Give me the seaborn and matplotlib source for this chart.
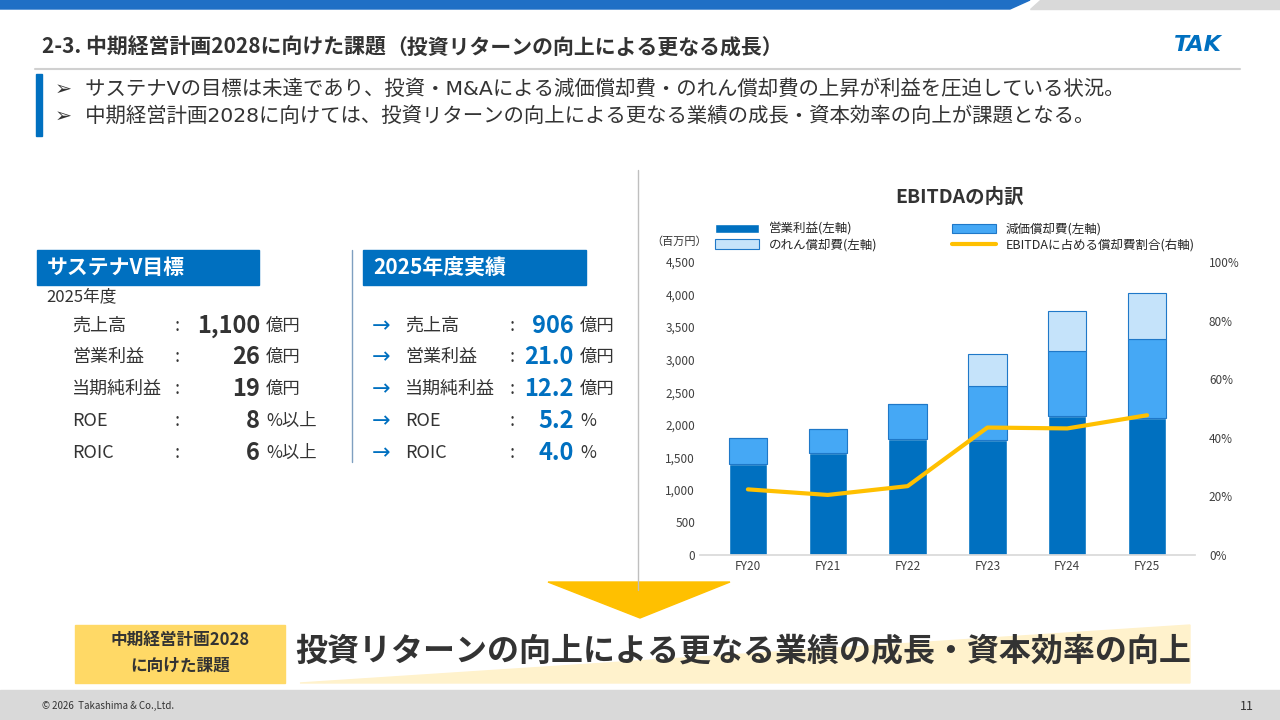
import numpy as np
import pandas as pd
import matplotlib
matplotlib.use("Agg")
import matplotlib.pyplot as plt
import seaborn as sns
from matplotlib.patches import Rectangle, Polygon
from matplotlib.ticker import FuncFormatter, PercentFormatter

# ---- data ----
years = ["FY20", "FY21", "FY22", "FY23", "FY24", "FY25"]
op_profit = [1405, 1560, 1775, 1765, 2135, 2105]
depreciation = [395, 380, 540, 830, 1005, 1205]
goodwill = [0, 0, 0, 495, 610, 715]
amort_ratio = [22.4, 20.5, 23.5, 43.5, 43.2, 47.7]

target_labels = ["売上高", "営業利益", "当期純利益", "ROE", "ROIC"]
target_values = ["1,100", "26", "19", "8", "6"]
target_units = ["億円", "億円", "億円", "%以上", "%以上"]
actual_values = ["906", "21.0", "12.2", "5.2", "4.0"]
actual_units = ["億円", "億円", "億円", "%", "%"]

sns.set_theme(style="white")
plt.rcParams["font.family"] = ["Noto Sans CJK JP", "DejaVu Sans"]

W, H = 1280, 720
fig = plt.figure(figsize=(12.8, 7.2), dpi=100)
bg = fig.add_axes([0, 0, 1, 1])
bg.set_xlim(0, W)
bg.set_ylim(H, 0)
bg.axis("off")

BLUE = "#0070C0"
DARK = "#333333"

# header band
bg.add_patch(Polygon([[0, 0], [1030, 0], [1010, 9], [0, 9]], color="#1F6FC5"))
bg.add_patch(Polygon([[1040, 0], [1280, 0], [1280, 9], [1030, 9]], color="#D9D9D9"))
bg.text(42, 47, "2-3. 中期経営計画2028に向けた課題", fontsize=15, weight="bold", color=DARK, va="center")
bg.text(386, 48, "（投資リターンの向上による更なる成長）", fontsize=15, weight="bold", color=DARK, va="center")
bg.plot([35, 1240], [69, 69], color="#D0D0D0", lw=1.5)
bg.text(1198, 45, "TAK", fontsize=16, weight="bold", style="italic", color=BLUE, ha="center", va="center",
        family="DejaVu Sans")

# bullets
bg.add_patch(Rectangle((36, 74), 6, 62, color=BLUE))
bg.text(55, 89, "➢  サステナVの目標は未達であり、投資・M&Aによる減価償却費・のれん償却費の上昇が利益を圧迫している状況。",
        fontsize=14.7, color=DARK, va="center", family=["DejaVu Sans", "Noto Sans CJK JP"])
bg.text(55, 116, "➢  中期経営計画2028に向けては、投資リターンの向上による更なる業績の成長・資本効率の向上が課題となる。",
        fontsize=14.7, color=DARK, va="center", family=["DejaVu Sans", "Noto Sans CJK JP"])

# left panels
bg.add_patch(Rectangle((37, 250), 222, 35, color=BLUE))
bg.text(47, 268, "サステナV目標", fontsize=15, weight="bold", color="white", va="center")
bg.add_patch(Rectangle((363, 250), 223, 35, color=BLUE))
bg.text(373, 268, "2025年度実績", fontsize=15, weight="bold", color="white", va="center")
bg.text(46, 297, "2025年度", fontsize=12, color=DARK, va="center")
bg.plot([352, 352], [250, 462], color="#7F9FC0", lw=1)

rows_y = [326, 357, 389, 421, 453]
for y, lab, tv, tu, av, au in zip(rows_y, target_labels, target_values, target_units, actual_values, actual_units):
    bg.text(72, y, lab, fontsize=13, color=DARK, va="center")
    bg.text(175, y, ":", fontsize=13, color=DARK, va="center")
    bg.text(260, y, tv, fontsize=17, weight="bold", color=DARK, va="center", ha="right")
    bg.text(266, y, tu, fontsize=12.5, color=DARK, va="center")
    bg.text(372, y, "→", fontsize=16, color=BLUE, va="center", family="DejaVu Sans")
    bg.text(405, y, lab, fontsize=13, color=DARK, va="center")
    bg.text(510, y, ":", fontsize=13, color=DARK, va="center")
    bg.text(574, y, av, fontsize=17, weight="bold", color=BLUE, va="center", ha="right")
    bg.text(580, y, au, fontsize=12.5, color=DARK, va="center")

# chart separator + titles
bg.plot([638, 638], [170, 590], color="#BFBFBF", lw=1)
bg.text(960, 197, "EBITDAの内訳", fontsize=14, weight="bold", color=DARK, ha="center", va="center")
bg.text(651, 242, "（百万円）", fontsize=8, color=DARK, va="center")

# arrow and bottom message
bg.add_patch(Polygon([[548, 582], [730, 582], [640, 618]], color="#FFC000"))
bg.add_patch(Polygon([[300, 683], [1190, 625], [1190, 683]], color="#FFF2CC"))
bg.add_patch(Rectangle((75, 625), 210, 58, color="#FFD966"))
bg.text(180, 640, "中期経営計画2028", fontsize=12, weight="bold", color=DARK, ha="center", va="center")
bg.text(180, 666, "に向けた課題", fontsize=12, weight="bold", color=DARK, ha="center", va="center")
bg.text(295, 651, "投資リターンの向上による更なる業績の成長・資本効率の向上", fontsize=23,
        weight="bold", color=DARK, va="center")

# footer
bg.add_patch(Rectangle((0, 690), W, 30, color="#D9D9D9"))
bg.text(42, 706, "© 2026  Takashima & Co.,Ltd.", fontsize=7, color=DARK, va="center")
bg.text(1240, 706, "11", fontsize=9, color=DARK, va="center")

# ---- chart ----
ax = fig.add_axes([700 / W, 1 - 555 / H, 495 / W, 293 / H])
df = pd.DataFrame({"year": years, "op": op_profit, "dep": depreciation, "gw": goodwill})
x = np.arange(len(years))
bw = 0.48
b1 = ax.bar(x, df["op"], bw, color="#0070C0", label="営業利益(左軸)")
b2 = ax.bar(x, df["dep"], bw, bottom=df["op"], color="#45A8F5", edgecolor="#1F78C8", lw=0.8,
            label="減価償却費(左軸)")
b3 = ax.bar(x, df["gw"], bw, bottom=df["op"] + df["dep"], color="#C5E3FA", edgecolor="#1F78C8", lw=0.8,
            label="のれん償却費(左軸)")
ax.set_xlim(-0.6, len(years) - 0.4)
ax.set_ylim(0, 4500)
ax.set_yticks(np.arange(0, 4501, 500))
ax.yaxis.set_major_formatter(FuncFormatter(lambda v, p: f"{int(v):,}"))
ax.set_xticks(x)
ax.set_xticklabels(years)
ax.tick_params(labelsize=8.5, colors="#404040", length=0)
for s in ["top", "right", "left"]:
    ax.spines[s].set_visible(False)
ax.spines["bottom"].set_color("#D9D9D9")
ax.set_facecolor("none")

ax2 = ax.twinx()
ln, = ax2.plot(x, amort_ratio, color="#FFC000", lw=3, label="EBITDAに占める償却費割合(右軸)")
ax2.set_ylim(0, 100)
ax2.set_yticks(np.arange(0, 101, 20))
ax2.yaxis.set_major_formatter(PercentFormatter(decimals=0))
ax2.tick_params(labelsize=8.5, colors="#404040", length=0, pad=10)
for s in ax2.spines.values():
    s.set_visible(False)
ax2.grid(False)

fig.legend([b1, b3, b2, ln], [b1.get_label(), b3.get_label(), b2.get_label(), ln.get_label()],
           ncol=2, loc="center", bbox_to_anchor=(955 / W, 1 - 237 / H), frameon=False,
           fontsize=9, handlelength=3.5, handleheight=0.8, columnspacing=6, labelspacing=0.2)

fig.savefig("out.png", dpi=100)
